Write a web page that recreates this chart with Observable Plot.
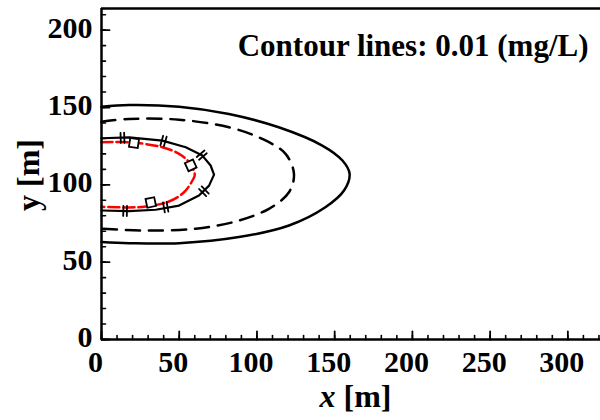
<!DOCTYPE html>
<html>
<head>
<meta charset="utf-8">
<script src="https://cdn.jsdelivr.net/npm/d3@7"></script>
<script src="https://cdn.jsdelivr.net/npm/@observablehq/plot@0.6"></script>
<style>
  html, body { margin: 0; padding: 0; background: #fff; }
  #wrap { position: relative; width: 600px; height: 420px; overflow: hidden; }
  #leftpanel { position: absolute; left: -4px; top: 8px; width: 7px; height: 335px;
    border: 2.5px solid #000; }
  #chart { position: absolute; left: 0; top: 0; }
  #chart svg text { font-family: "Liberation Serif", "Times New Roman", Times, serif !important; }
</style>
</head>
<body>
<div id="wrap"><div id="leftpanel"></div><div id="chart"></div></div>
<script>
// ---- data ----
const outerX = [0, 17.7, 49.9, 82, 114, 142, 155, 159.6, 156, 144, 120.6, 88.4, 49.9, 17.7, 0];
const outerY = [150.5, 151.6, 150.5, 145.8, 137.2, 125.4, 115.7, 107.1, 96.3, 85.5, 73.7, 66.2, 62.3, 62.3, 63];

const dashX = [0, 17.7, 49.9, 82, 103.4, 118.4, 123.8, 120.6, 107.7, 86.3, 60.6, 28.5, 0];
const dashY = [140.8, 142.6, 142.1, 137.2, 129.7, 120, 107.1, 95.2, 84.5, 76.3, 71.6, 70.5, 71.6];

const innerX = [0, 17.7, 39.2, 54.2, 64.9, 70.2, 72.4, 69.2, 62.7, 49.9, 34.9, 17.7, 0];
const innerY = [130.1, 130.7, 128.6, 124.3, 118.9, 112.5, 106.6, 99.5, 93.1, 86.6, 83.9, 83, 83.4];

const redX = [0, 17.7, 39.2, 49.9, 56.3, 60, 58.5, 53.1, 43.4, 28.5, 17.7, 0];
const redY = [127.5, 127.5, 124.3, 120, 114.6, 106.5, 102.8, 95.2, 89.2, 86, 85.4, 85.8];

// marker positions
const barMarkX = [13.5, 39.9, 64.5, 65.9, 41.3, 15.2];
const barMarkY = [130.4, 128.3, 119.2, 95.8, 85.6, 83.1];
const sqMarkX = [20.9, 57.4, 31.7];
const sqMarkY = [127.1, 112.6, 88.6];

const xMajor = [0, 50, 100, 150, 200, 250, 300];
const yMajor = [0, 50, 100, 150, 200];
const xMinor = d3.range(0, 321, 10);
const yMinor = d3.range(0, 214, 10);

const titleText = "Contour lines: 0.01 (mg/L)";
const xLabelItalic = "x";
const xLabelRest = " [m]";
const yLabel = "y [m]";

// ---- layout ----
const W = 600, H = 420;
const mL = 101, mR = 0, mT = 8, mB = 81;
const xDom = [0, 321], yDom = [0, 214];
const kx = (W - mL - mR) / (xDom[1] - xDom[0]);
const ky = (H - mT - mB) / (yDom[1] - yDom[0]);

const toRows = (xs, ys) => xs.map((x, i) => ({x, y: ys[i]}));
const outer = toRows(outerX, outerY);
const dash = toRows(dashX, dashY);
const inner = toRows(innerX, innerY);
const red = toRows(redX, redY);

// screen-space tangent angle (Plot rotate convention: 0 = up, clockwise)
function tangentAngle(line, p) {
  let best = null, bd = Infinity;
  for (let i = 0; i < line.length - 1; i++) {
    const a = line[i], b = line[i + 1];
    const mx = (a.x + b.x) / 2, my = (a.y + b.y) / 2;
    const d = ((mx - p.x) * kx) ** 2 + ((my - p.y) * ky) ** 2;
    if (d < bd) { bd = d; best = [a, b]; }
  }
  const tx = (best[1].x - best[0].x) * kx;
  const ty = -(best[1].y - best[0].y) * ky;
  return Math.atan2(tx, -ty) * 180 / Math.PI;
}
const barMarks = toRows(barMarkX, barMarkY).map(p => ({...p, r: tangentAngle(inner, p) + 90}));
const sqMarks = toRows(sqMarkX, sqMarkY).map(p => ({...p, r: tangentAngle(red, p)}));

const tickShape = { draw(ctx, l) { ctx.moveTo(0, 0); ctx.lineTo(0, -l); } };
const doubleBar = { draw(ctx, l) {
  ctx.moveTo(-1.8, 0); ctx.lineTo(-1.8, -l);
  ctx.moveTo(1.8, 0); ctx.lineTo(1.8, -l);
} };

const font = "Liberation Serif, Times New Roman, serif";

const plot = Plot.plot({
  width: W, height: H,
  marginLeft: mL, marginRight: mR, marginTop: mT, marginBottom: mB,
  x: {domain: xDom, axis: null},
  y: {domain: yDom, axis: null},
  style: {fontFamily: font, fontSize: "30px", fontWeight: "bold", color: "#000", background: "#fff", overflow: "visible"},
  marks: [
    Plot.line(outer, {x: "x", y: "y", curve: "catmull-rom", stroke: "#000", strokeWidth: 2.5}),
    Plot.line(dash, {x: "x", y: "y", curve: "catmull-rom", stroke: "#000", strokeWidth: 2.5, strokeDasharray: "14,9"}),
    Plot.line(inner, {x: "x", y: "y", curve: "linear", stroke: "#000", strokeWidth: 2.2}),
    Plot.line(red, {x: "x", y: "y", curve: "catmull-rom", stroke: "#ff0000", strokeWidth: 2.5, strokeDasharray: "11,4"}),
    Plot.vector(barMarks, {x: "x", y: "y", rotate: "r", length: 10, anchor: "middle", shape: doubleBar, stroke: "#000", strokeWidth: 1.8}),
    Plot.dot(sqMarks, {x: "x", y: "y", rotate: "r", symbol: "square", r: 5, stroke: "#000", fill: "#fff", strokeWidth: 1.8}),
    // frame lines
    Plot.ruleY([yDom[1]], {stroke: "#000", strokeWidth: 2.5}),
    Plot.ruleY([0], {stroke: "#000", strokeWidth: 2.5}),
    Plot.ruleX([0], {stroke: "#000", strokeWidth: 2.5}),
    // inward ticks
    Plot.vectorX(xMinor, {x: d => d, frameAnchor: "bottom", length: 4, rotate: 0, anchor: "start", shape: tickShape, stroke: "#000", strokeWidth: 1.6}),
    Plot.vectorX(xMajor, {x: d => d, frameAnchor: "bottom", length: 8, rotate: 0, anchor: "start", shape: tickShape, stroke: "#000", strokeWidth: 1.8}),
    Plot.vectorY(yMinor, {y: d => d, frameAnchor: "left", length: 4, rotate: 90, anchor: "start", shape: tickShape, stroke: "#000", strokeWidth: 1.6}),
    Plot.vectorY(yMajor, {y: d => d, frameAnchor: "left", length: 8, rotate: 90, anchor: "start", shape: tickShape, stroke: "#000", strokeWidth: 1.8}),
    // tick labels
    Plot.axisX({ticks: xMajor, tickSize: 0, tickPadding: 11, dx: -6, fontSize: 30, fontWeight: "bold", fontFamily: font, label: null}),
    Plot.axisY({ticks: yMajor, tickSize: 0, tickPadding: 9, dy: -2, fontSize: 30, fontWeight: "bold", fontFamily: font, label: null}),
    // title & y label
    Plot.text([titleText], {frameAnchor: "top-right", dx: -12, dy: 38, textAnchor: "end", lineAnchor: "middle", fontSize: 31, fontWeight: "bold", fontFamily: font}),
    Plot.text([yLabel], {frameAnchor: "left", dx: -73, dy: 1, rotate: -90, textAnchor: "middle", lineAnchor: "middle", fontSize: 32, fontWeight: "bold", fontFamily: font})
  ]
});
document.getElementById("chart").appendChild(plot);

// x axis label with italic x
const svg = d3.select(plot);
const xc = (mL + (W - mR)) / 2 + 5;
const t = svg.append("text")
  .attr("x", xc).attr("y", 407)
  .attr("text-anchor", "middle")
  .attr("font-family", font).attr("font-size", 32).attr("font-weight", "bold")
  .attr("fill", "#000");
t.append("tspan").attr("font-style", "italic").text(xLabelItalic);
t.append("tspan").text(xLabelRest);
</script>
</body>
</html>
